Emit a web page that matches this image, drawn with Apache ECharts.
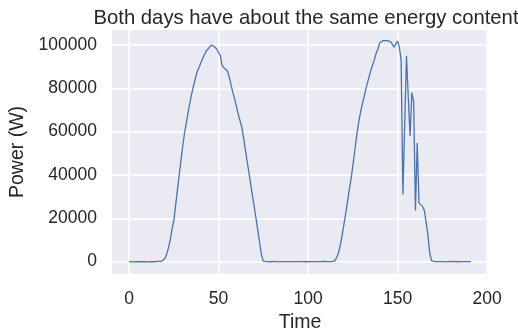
<!DOCTYPE html>
<html>
<head>
<meta charset="utf-8">
<script src="https://cdn.jsdelivr.net/npm/echarts@6/dist/echarts.min.js"></script>
<style>
  html, body { margin: 0; padding: 0; background: #ffffff; }
  #chart { width: 518px; height: 330px; }
</style>
</head>
<body>
<div id="chart"></div>
<script>
// Two days of PV output, one sample per step (192 steps)
const powerW = [
  0, 100, -100, 0, 50, 0, -50, 100, 0, 0, -100, 50, 0, 100, -50, 0, 150, 0,
  100, 400, 1500, 3500, 6500, 10000, 15000, 19000, 26000, 33000,
  40000, 47000, 53500, 59500, 64000, 69000, 73500, 77500, 81000, 84500,
  87500, 89500, 91500, 93500, 95500, 97000, 98000, 99000, 100000, 99500,
  99000, 98000, 96500, 95000, 90500, 89500, 89000, 88000, 85000, 81500,
  78000, 75000, 71500, 68000, 65000, 62000, 57000, 51500, 46000, 41000,
  35500, 30000, 25000, 19500, 14000, 8500, 3000, 200, 0, 50,
  0, -50, 0, 100, 0, -100, 0, 50, 0, 0,
  100, 0, -50, 0, 0, 50, -100, 0, 100, 0,
  0, -50, 50, 0, 100, 0, -100, 0, 50, 0,
  0, 100, -50, 0, 50, 0, 0, 500, 2000, 4000,
  7500, 12000, 17000, 22000, 27500, 33000, 38000, 44000, 50500, 57000,
  63000, 67500, 71500, 75000, 78500, 82000, 85000, 88000, 90500, 93000,
  96000, 98000, 101000, 100500, 102000, 101500, 102000, 102500, 101500, 100500,
  99000, 98500, 101800, 99000, 93000, 31000, 30300, 95000, 76000, 58000,
  78000, 74000, 23600, 54700, 27000, 26500, 25500, 23600, 18000, 12000,
  4000, 500, 0, 50, -50, 0, 100, 0, 0, -100,
  0, 50, 0, 100, 0, -50, 0, 0, 50, 0,
  100, 0, -50, 0
];

const xTicks = [0, 50, 100, 150, 200];
const yTicks = [0, 20000, 40000, 60000, 80000, 100000];

const titleText = 'Both days have about the same energy content';
const xName = 'Time';
const yName = 'Power (W)';

const points = powerW.map((v, i) => [i, v]);

const font = 'Liberation Sans, Arial, sans-serif';
const ink = '#262626';

const chart = echarts.init(document.getElementById('chart'), null, { renderer: 'canvas' });

chart.setOption({
  animation: false,
  backgroundColor: '#ffffff',
  title: {
    text: titleText,
    left: 301,
    top: 3,
    textAlign: 'center',
    textStyle: { fontFamily: font, fontSize: 20.3, fontWeight: 'normal', color: ink }
  },
  grid: {
    left: 112, right: 30, top: 30, bottom: 56,
    outerBoundsMode: 'none',
    containLabel: false,
    show: true, backgroundColor: '#EAEAF2', borderWidth: 0
  },
  xAxis: {
    type: 'value',
    min: -9.55,
    max: 200.55,
    name: xName,
    nameLocation: 'middle',
    nameGap: 34,
    nameTextStyle: { fontFamily: font, fontSize: 19.5, color: ink },
    axisLine: { show: false },
    axisTick: { show: false, customValues: xTicks },
    axisLabel: { customValues: xTicks, fontFamily: font, fontSize: 17.5, color: ink, margin: 16 },
    splitLine: { show: true, lineStyle: { color: '#ffffff', width: 1.5 } }
  },
  yAxis: {
    type: 'value',
    min: -5700,
    max: 106900,
    name: yName,
    nameLocation: 'middle',
    nameGap: 83,
    nameTextStyle: { fontFamily: font, fontSize: 19.5, color: ink },
    axisLine: { show: false },
    axisTick: { show: false, customValues: yTicks },
    axisLabel: {
      customValues: yTicks,
      formatter: (v) => String(v),
      fontFamily: font, fontSize: 17.5, color: ink, margin: 15
    },
    splitLine: { show: true, lineStyle: { color: '#ffffff', width: 1.5 } }
  },
  series: [{
    type: 'line',
    data: points,
    showSymbol: false,
    symbol: 'none',
    lineStyle: { color: '#4c72b0', width: 1.3 },
    clip: true
  }]
});
</script>
</body>
</html>
